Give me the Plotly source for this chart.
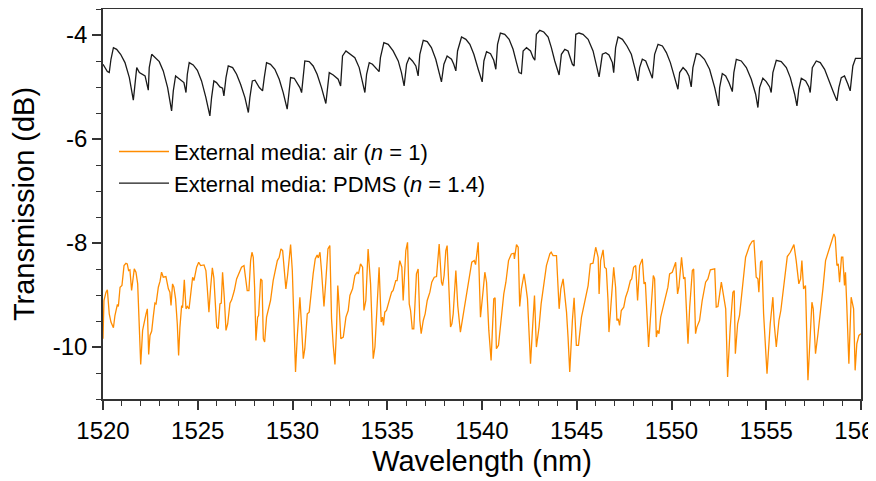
import plotly.graph_objects as go

# ---------------- data ----------------
pdms_wavelength = [
    1520.00, 1520.05, 1520.23, 1520.33, 1520.42, 1520.55, 1520.72, 1520.93, 1521.16, 1521.39,
    1521.60, 1521.67, 1521.78, 1521.92, 1522.04, 1522.22, 1522.39, 1522.44, 1522.57, 1522.74,
    1522.97, 1523.18, 1523.41, 1523.62, 1523.71, 1523.83, 1523.97, 1524.15, 1524.27, 1524.38,
    1524.45, 1524.55, 1524.76, 1524.98, 1525.20, 1525.43, 1525.64, 1525.73, 1525.85, 1525.99,
    1526.17, 1526.31, 1526.38, 1526.49, 1526.61, 1526.84, 1527.05, 1527.26, 1527.49, 1527.67,
    1527.75, 1527.88, 1528.02, 1528.25, 1528.42, 1528.51, 1528.63, 1528.84, 1529.07, 1529.30,
    1529.51, 1529.72, 1529.81, 1529.90, 1530.09, 1530.30, 1530.39, 1530.48, 1530.57, 1530.65,
    1530.88, 1531.09, 1531.30, 1531.53, 1531.76, 1531.85, 1531.94, 1532.15, 1532.29, 1532.41,
    1532.54, 1532.64, 1532.82, 1533.03, 1533.29, 1533.52, 1533.70, 1533.82, 1533.91, 1534.05,
    1534.22, 1534.43, 1534.57, 1534.64, 1534.82, 1535.05, 1535.31, 1535.58, 1535.75, 1535.89,
    1536.02, 1536.16, 1536.33, 1536.51, 1536.63, 1536.72, 1536.90, 1537.11, 1537.33, 1537.56,
    1537.74, 1537.86, 1537.99, 1538.16, 1538.39, 1538.51, 1538.62, 1538.71, 1538.92, 1539.15,
    1539.36, 1539.57, 1539.80, 1540.01, 1540.10, 1540.24, 1540.45, 1540.62, 1540.73, 1540.82,
    1540.97, 1541.20, 1541.43, 1541.64, 1541.82, 1541.96, 1542.08, 1542.17, 1542.35, 1542.56,
    1542.70, 1542.79, 1542.87, 1543.05, 1543.26, 1543.49, 1543.66, 1543.84, 1544.07, 1544.19,
    1544.37, 1544.54, 1544.77, 1544.86, 1544.95, 1545.12, 1545.33, 1545.60, 1545.86, 1546.07,
    1546.18, 1546.35, 1546.53, 1546.70, 1546.88, 1546.95, 1547.05, 1547.18, 1547.41, 1547.65,
    1547.88, 1548.06, 1548.23, 1548.32, 1548.46, 1548.64, 1548.85, 1548.99, 1549.11, 1549.29,
    1549.52, 1549.73, 1549.94, 1550.17, 1550.34, 1550.43, 1550.61, 1550.78, 1550.92, 1551.04,
    1551.13, 1551.31, 1551.48, 1551.74, 1552.01, 1552.28, 1552.49, 1552.54, 1552.68, 1552.86,
    1553.03, 1553.21, 1553.29, 1553.42, 1553.68, 1553.95, 1554.21, 1554.44, 1554.56, 1554.65,
    1554.82, 1555.00, 1555.18, 1555.26, 1555.35, 1555.53, 1555.79, 1556.06, 1556.27, 1556.50,
    1556.62, 1556.72, 1556.85, 1557.08, 1557.25, 1557.32, 1557.43, 1557.64, 1557.85, 1558.08,
    1558.34, 1558.52, 1558.73, 1558.83, 1558.96, 1559.13, 1559.31, 1559.43, 1559.57, 1559.71,
    1560.00,
]
pdms_transmission = [
    -4.563, -4.595, -4.704, -4.723, -4.467, -4.243, -4.275, -4.371, -4.531, -4.819,
    -5.254, -5.011, -4.627, -4.723, -4.755, -4.787, -5.062, -4.627, -4.371, -4.435,
    -4.512, -4.691, -5.011, -5.459, -5.075, -4.787, -4.832, -4.883, -4.915, -5.107,
    -4.755, -4.531, -4.576, -4.678, -4.883, -5.203, -5.555, -5.203, -4.883, -4.915,
    -4.998, -5.024, -5.171, -4.819, -4.595, -4.627, -4.755, -4.947, -5.203, -5.491,
    -5.203, -4.883, -4.870, -5.011, -5.075, -4.819, -4.531, -4.563, -4.659, -4.851,
    -5.107, -5.427, -5.075, -4.819, -4.832, -4.947, -5.011, -5.107, -4.755, -4.499,
    -4.512, -4.595, -4.755, -5.011, -5.318, -4.947, -4.723, -4.768, -4.806, -4.851,
    -4.979, -4.403, -4.307, -4.358, -4.435, -4.627, -4.883, -5.107, -4.755, -4.531,
    -4.563, -4.659, -4.704, -4.435, -4.147, -4.179, -4.307, -4.499, -4.723, -4.979,
    -4.563, -4.435, -4.499, -4.595, -4.787, -4.371, -4.102, -4.128, -4.243, -4.467,
    -4.723, -4.902, -4.563, -4.403, -4.467, -4.563, -4.691, -4.307, -4.038, -4.083,
    -4.179, -4.371, -4.659, -4.902, -4.499, -4.320, -4.358, -4.486, -4.659, -4.179,
    -3.962, -3.987, -4.083, -4.275, -4.531, -4.723, -4.742, -4.307, -4.243, -4.307,
    -4.435, -4.486, -3.987, -3.910, -3.942, -4.038, -4.243, -4.499, -4.768, -4.371,
    -4.275, -4.307, -4.563, -4.595, -3.987, -3.962, -3.987, -4.083, -4.307, -4.659,
    -4.806, -4.371, -4.339, -4.384, -4.531, -4.723, -4.243, -4.038, -4.083, -4.211,
    -4.371, -4.627, -4.883, -4.627, -4.467, -4.499, -4.691, -4.832, -4.371, -4.179,
    -4.211, -4.339, -4.531, -4.819, -5.043, -4.723, -4.627, -4.691, -4.787, -4.998,
    -4.627, -4.358, -4.371, -4.467, -4.659, -5.011, -5.363, -5.011, -4.742, -4.787,
    -4.915, -5.088, -4.723, -4.467, -4.499, -4.627, -4.851, -5.139, -5.395, -5.011,
    -4.832, -4.896, -4.998, -5.107, -4.723, -4.486, -4.512, -4.627, -4.819, -5.139,
    -5.363, -5.043, -4.832, -4.883, -4.998, -5.107, -4.627, -4.499, -4.531, -4.659,
    -4.883, -5.075, -5.267, -5.011, -4.819, -4.787, -4.947, -5.075, -4.595, -4.448,
    -4.448,
]

air_wavelength = [
    1520.00, 1520.05, 1520.16, 1520.23, 1520.33, 1520.42, 1520.55, 1520.63, 1520.76, 1520.81,
    1520.90, 1521.00, 1521.11, 1521.21, 1521.28, 1521.35, 1521.42, 1521.51, 1521.65, 1521.74,
    1521.83, 1521.92, 1521.99, 1522.09, 1522.18, 1522.27, 1522.34, 1522.41, 1522.48, 1522.57,
    1522.65, 1522.74, 1522.80, 1522.92, 1523.01, 1523.09, 1523.18, 1523.32, 1523.45, 1523.53,
    1523.59, 1523.67, 1523.74, 1523.83, 1523.92, 1523.99, 1524.06, 1524.15, 1524.20, 1524.29,
    1524.38, 1524.45, 1524.54, 1524.62, 1524.73, 1524.80, 1524.94, 1525.05, 1525.15, 1525.33,
    1525.43, 1525.50, 1525.59, 1525.68, 1525.77, 1525.85, 1525.92, 1526.00, 1526.08, 1526.17,
    1526.24, 1526.31, 1526.40, 1526.49, 1526.58, 1526.70, 1526.79, 1526.93, 1527.05, 1527.19,
    1527.31, 1527.44, 1527.54, 1527.61, 1527.70, 1527.79, 1527.86, 1527.93, 1528.00, 1528.07,
    1528.16, 1528.21, 1528.32, 1528.39, 1528.46, 1528.53, 1528.63, 1528.72, 1528.84, 1528.98,
    1529.11, 1529.20, 1529.30, 1529.39, 1529.48, 1529.56, 1529.65, 1529.74, 1529.83, 1529.90,
    1529.99, 1530.07, 1530.16, 1530.25, 1530.39, 1530.48, 1530.57, 1530.65, 1530.78, 1530.88,
    1530.97, 1531.09, 1531.20, 1531.30, 1531.36, 1531.45, 1531.53, 1531.66, 1531.76, 1531.87,
    1531.97, 1532.06, 1532.15, 1532.24, 1532.32, 1532.39, 1532.47,
    1532.55, 1532.68, 1532.82, 1532.94, 1533.03, 1533.17, 1533.29, 1533.41, 1533.48, 1533.59,
    1533.70, 1533.77, 1533.87, 1533.99, 1534.12, 1534.26, 1534.35, 1534.47, 1534.57, 1534.68,
    1534.75, 1534.80, 1534.87, 1534.96, 1535.10, 1535.23, 1535.31, 1535.45, 1535.52, 1535.66,
    1535.77, 1535.84, 1535.98, 1536.07, 1536.16, 1536.23, 1536.32, 1536.40, 1536.54, 1536.63,
    1536.72, 1536.79, 1536.90, 1537.00, 1537.11, 1537.25, 1537.35, 1537.48, 1537.60, 1537.74,
    1537.86, 1537.92, 1538.00, 1538.09, 1538.16, 1538.27, 1538.34, 1538.41, 1538.48, 1538.62,
    1538.72, 1538.86, 1539.01, 1539.22, 1539.36, 1539.46, 1539.59, 1539.66, 1539.80, 1539.92,
    1540.06, 1540.15, 1540.24, 1540.36, 1540.48, 1540.62, 1540.69, 1540.76, 1540.87, 1541.01,
    1541.15, 1541.26, 1541.40, 1541.55, 1541.68, 1541.71, 1541.82, 1541.91, 1541.99, 1542.08,
    1542.22, 1542.31, 1542.40, 1542.49, 1542.56, 1542.66, 1542.77, 1542.87, 1543.01, 1543.12,
    1543.26, 1543.40, 1543.58, 1543.65, 1543.75, 1543.93, 1544.07, 1544.16, 1544.28, 1544.40,
    1544.46, 1544.54, 1544.63, 1544.77, 1544.86, 1544.98, 1545.09, 1545.25, 1545.42, 1545.60,
    1545.72, 1545.86, 1546.00, 1546.13, 1546.18,
    1546.26, 1546.39, 1546.47, 1546.56, 1546.65, 1546.70, 1546.83, 1546.95, 1547.05, 1547.12,
    1547.19, 1547.26, 1547.35, 1547.48, 1547.58, 1547.70, 1547.83, 1547.90, 1548.00, 1548.11,
    1548.21, 1548.32, 1548.46, 1548.55, 1548.62, 1548.71, 1548.79, 1548.88, 1548.95, 1549.04,
    1549.11, 1549.20, 1549.27, 1549.34, 1549.43, 1549.55, 1549.69, 1549.81, 1549.90, 1550.04,
    1550.22, 1550.32, 1550.39, 1550.53, 1550.64, 1550.71, 1550.87, 1550.96, 1551.10, 1551.17,
    1551.27, 1551.34, 1551.48, 1551.62, 1551.80, 1551.92, 1552.05, 1552.28, 1552.36, 1552.45,
    1552.63, 1552.75, 1552.86, 1552.96, 1553.10, 1553.24, 1553.31, 1553.37, 1553.49, 1553.59,
    1553.73, 1553.91, 1554.00, 1554.12, 1554.26, 1554.35, 1554.47, 1554.56, 1554.61, 1554.70,
    1554.77, 1554.86, 1555.04, 1555.21, 1555.35, 1555.42, 1555.53, 1555.67, 1555.77, 1555.88,
    1555.97, 1556.11, 1556.27, 1556.37, 1556.46, 1556.58, 1556.72, 1556.81, 1556.88, 1556.97,
    1557.07, 1557.20, 1557.32, 1557.41, 1557.48, 1557.60, 1557.73, 1557.85, 1557.99, 1558.13,
    1558.34, 1558.52, 1558.57, 1558.64, 1558.73, 1558.80, 1558.87, 1558.97, 1559.04, 1559.13,
    1559.18, 1559.25, 1559.36, 1559.48, 1559.61, 1559.69, 1559.78, 1559.89, 1560.00,
]
air_transmission = [
    -9.841, -9.106, -8.946, -8.901, -9.362, -9.521, -9.630, -9.394, -9.182, -9.221,
    -8.850, -8.818, -8.434, -8.389, -8.402, -8.530, -8.517, -8.914, -8.498, -8.562,
    -8.786, -9.490, -10.334, -9.681, -9.490, -9.362, -9.266, -10.142, -9.777, -9.694,
    -9.426, -9.157, -9.170, -8.850, -8.734, -8.562, -8.658, -8.645, -8.882, -8.946,
    -9.202, -8.786, -8.850, -9.074, -9.553, -10.161, -9.617, -9.202, -9.246, -8.709,
    -9.266, -9.221, -9.266, -8.946, -8.658, -8.722, -8.466, -8.370, -8.434, -8.421,
    -8.530, -8.850, -9.330, -8.850, -8.479, -8.670, -9.042, -9.617, -9.649, -9.170,
    -9.157, -8.562, -9.042, -9.681, -9.553, -9.157, -9.093, -8.914, -8.690, -8.562,
    -8.466, -8.434, -8.722, -8.914, -8.914, -8.338, -8.178, -8.274, -8.850, -9.873,
    -9.426, -9.394, -8.690, -8.722, -9.841, -9.905, -9.426, -9.298, -9.106, -8.722,
    -8.530, -8.338, -8.274, -8.114, -8.146, -8.562, -8.882, -8.626, -8.210, -8.031,
    -8.530, -9.490, -10.481, -9.809, -9.042, -9.617, -10.225, -10.033, -9.362, -9.330,
    -8.946, -8.594, -8.306, -8.229, -8.287, -8.178, -8.530, -9.221, -8.722, -8.114,
    -8.050, -9.458, -9.969, -10.334, -9.681, -8.818, -9.266,
    -9.841, -9.809, -9.426, -9.298, -9.010, -8.882, -8.626, -8.562, -8.594, -8.402,
    -8.466, -9.298, -9.106, -8.114, -8.786, -10.225, -10.001, -9.170, -8.466, -9.521,
    -9.426, -9.585, -9.330, -9.298, -9.106, -8.946, -8.914, -8.722, -8.722, -8.338,
    -8.466, -9.106, -8.146, -7.986, -9.170, -9.298, -9.649, -9.649, -8.594, -8.498,
    -9.490, -9.745, -9.490, -9.362, -9.106, -8.946, -8.754, -8.658, -8.645, -8.018,
    -8.754, -8.818, -8.626, -8.146, -8.050, -8.946, -9.617, -9.553, -9.362, -8.530,
    -9.202, -9.713, -9.362, -8.914, -8.594, -8.370, -8.338, -8.415, -7.986, -9.426,
    -8.914, -8.562, -8.754, -9.681, -10.257, -9.074, -9.054, -10.033, -9.969, -9.490,
    -8.978, -8.754, -8.338, -8.210, -8.197, -8.306, -8.031, -8.082, -9.221, -8.882,
    -8.594, -8.818, -9.074, -9.777, -10.321, -9.681, -9.010, -10.001, -9.617, -9.170,
    -8.786, -8.434, -8.210, -8.178, -8.242, -8.242, -9.266, -8.882, -8.690, -9.106,
    -9.330, -9.809, -10.481, -9.490, -9.054, -9.969, -9.969, -9.426, -9.106, -8.818,
    -8.402, -8.389, -8.082, -8.274, -8.978,
    -8.338, -8.133, -8.466, -8.498, -9.106, -9.713, -9.106, -8.466, -8.850, -9.490,
    -9.458, -9.585, -9.298, -9.234, -9.042, -8.914, -8.722, -8.690, -8.466, -8.434,
    -9.106, -8.434, -8.306, -8.786, -8.754, -9.490, -10.001, -9.490, -9.106, -8.626,
    -8.690, -9.809, -9.681, -9.745, -9.426, -9.234, -8.978, -8.850, -8.594, -8.562,
    -8.370, -8.978, -8.850, -8.274, -8.690, -8.658, -9.937, -9.234, -8.530, -8.498,
    -9.745, -9.617, -9.490, -9.106, -8.754, -8.690, -8.517, -8.498, -9.234, -9.221,
    -8.754, -9.010, -9.266, -10.577, -9.617, -8.946, -8.914, -10.129, -9.553, -9.394,
    -8.850, -8.274, -8.178, -8.050, -7.967, -7.954, -8.658, -8.690, -8.946, -8.370,
    -8.338, -9.362, -10.513, -9.553, -9.042, -9.553, -10.001, -9.490, -9.298, -8.946,
    -8.594, -8.261, -8.178, -8.082, -8.031, -8.338, -8.786, -8.690, -8.338, -8.882,
    -8.818, -10.641, -9.713, -9.138, -9.266, -10.129, -9.745, -9.362, -8.882, -8.338,
    -8.082, -7.858, -7.826, -7.890, -8.434, -8.402, -8.754, -8.274, -8.274, -8.818,
    -8.562, -9.202, -10.321, -9.042, -9.266, -10.449, -9.937, -9.777, -9.745,
]

series_names = [
    "External media: air (<i>n</i> = 1)",
    "External media: PDMS (<i>n</i> = 1.4)",
]
x_ticks = [1520, 1525, 1530, 1535, 1540, 1545, 1550, 1555, 1560]
y_ticks = [-10, -8, -6, -4]
y_tick_text = ["-10", "-8", "-6", "-4"]

assert len(pdms_wavelength) == len(pdms_transmission)
assert len(air_wavelength) == len(air_transmission)

# ---------------- figure ----------------
FONT = "Liberation Sans, Arial, sans-serif"
AX_COLOR = "#333333"

fig = go.Figure()
fig.add_trace(go.Scatter(
    x=air_wavelength, y=air_transmission, mode="lines", name=series_names[0],
    line=dict(color="#FF8C00", width=1.3),
))
fig.add_trace(go.Scatter(
    x=pdms_wavelength, y=pdms_transmission, mode="lines", name=series_names[1],
    line=dict(color="#1a1a1a", width=1.3),
))

axis_common = dict(
    showgrid=False, zeroline=False, automargin=False,
    showline=True, linecolor=AX_COLOR, linewidth=1.5, mirror=True,
    ticks="outside", ticklen=9, tickwidth=1.5, tickcolor=AX_COLOR,
    tickfont=dict(family=FONT, size=24, color="#000000"),
    ticklabeloverflow="allow",
)

fig.update_xaxes(
    range=[1520, 1560], tickvals=x_ticks, ticktext=[str(v) for v in x_ticks],
    minor=dict(ticks="outside", dtick=1, ticklen=5, tickwidth=1.2, tickcolor=AX_COLOR),
    title=dict(text="Wavelength (nm)", font=dict(family=FONT, size=29, color="#000000"), standoff=8),
    **axis_common,
)
fig.update_yaxes(
    range=[-11, -3.5], tickvals=y_ticks, ticktext=y_tick_text,
    minor=dict(ticks="outside", dtick=0.5, ticklen=5, tickwidth=1.2, tickcolor=AX_COLOR),
    title=dict(text="Transmission (dB)", font=dict(family=FONT, size=29, color="#000000"), standoff=10),
    **axis_common,
)

# the page body adds an 8 px offset, so margins are set relative to that
fig.update_layout(
    width=876, height=481,
    margin=dict(l=95, r=23, t=1, b=90),
    paper_bgcolor="white", plot_bgcolor="white",
    showlegend=True,
    legend=dict(
        x=0.0145, y=0.688, xanchor="left", yanchor="top",
        bgcolor="rgba(0,0,0,0)", borderwidth=0,
        font=dict(family=FONT, size=22, color="#000000"),
        itemwidth=50, tracegroupgap=0,
    ),
)

fig.write_html("out.html")
